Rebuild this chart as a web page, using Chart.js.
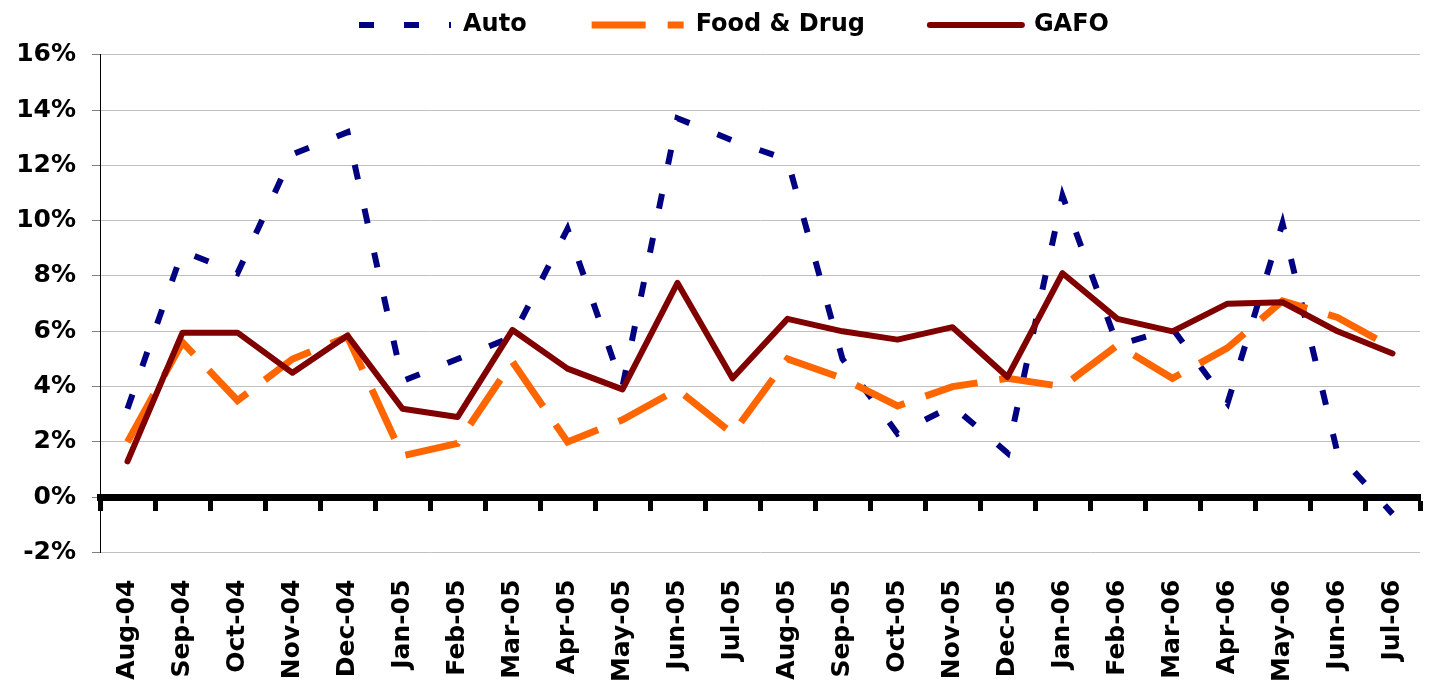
<!DOCTYPE html>
<html><head><meta charset="utf-8">
<script src="https://cdn.jsdelivr.net/npm/chart.js@4.4.1/dist/chart.umd.min.js"></script>
<style>html,body{margin:0;padding:0;background:#fff;overflow:hidden}canvas{display:block}</style>
</head><body>
<canvas id="c" width="1437" height="684"></canvas>
<script>
const months = ['Aug-04','Sep-04','Oct-04','Nov-04','Dec-04','Jan-05','Feb-05','Mar-05','Apr-05','May-05','Jun-05','Jul-05',
                'Aug-05','Sep-05','Oct-05','Nov-05','Dec-05','Jan-06','Feb-06','Mar-06','Apr-06','May-06','Jun-06','Jul-06'];
const autoSales     = [3.2, 8.9, 8.1, 12.4, 13.2, 4.2, 5.0, 5.8, 9.7, 4.0, 13.7, 12.9, 12.2, 5.0, 2.3, 3.3, 1.6, 10.9, 5.5, 6.1, 3.4, 9.9, 1.6, -0.6];
const foodDrugSales = [2.0, 5.6, 3.5, 5.0, 5.8, 1.5, 1.95, 4.9, 2.0, 2.8, 3.9, 2.3, 5.0, 4.3, 3.3, 4.0, 4.3, 4.0, 5.5, 4.3, 5.4, 7.1, 6.5, 5.4];
const gafoSales     = [1.3, 5.95, 5.95, 4.5, 5.85, 3.2, 2.9, 6.05, 4.65, 3.9, 7.75, 4.3, 6.45, 6.0, 5.7, 6.15, 4.35, 8.1, 6.45, 6.0, 7.0, 7.05, 6.0, 5.2];
const yMin = -2, yMax = 16, yStep = 2;

const FONT = "'DejaVu Sans', Verdana, sans-serif";

const legendLayout = {
  id: 'legendLayout',
  beforeInit(chart) {
    const orig = chart.legend.fit;
    chart.legend.fit = function () {
      orig.bind(chart.legend)();
      this.height = 106.7;
    };
  },
  afterLayout(chart) {
    chart.legend.left = 48;
  }
};

new Chart(document.getElementById('c'), {
  type: 'line',
  data: {
    labels: months,
    datasets: [
      { label: 'Auto', data: autoSales, borderColor: '#000080', backgroundColor: '#000080',
        borderWidth: 6, borderDash: [15, 30], borderCapStyle: 'butt', pointRadius: 0, tension: 0, fill: false, order: 3 },
      { label: 'Food & Drug', data: foodDrugSales, borderColor: '#FF6600', backgroundColor: '#FF6600',
        borderWidth: 7, borderDash: [54, 22], borderCapStyle: 'butt', pointRadius: 0, tension: 0, fill: false, order: 2 },
      { label: 'GAFO', data: gafoSales, borderColor: '#800000', backgroundColor: '#800000',
        borderWidth: 6, borderCapStyle: 'round', borderJoinStyle: 'round', pointRadius: 0, tension: 0, fill: false, order: 1 }
    ]
  },
  options: {
    responsive: false,
    animation: false,
    devicePixelRatio: 1,
    layout: { padding: { left: 0, right: 17, top: -52, bottom: 0 } },
    plugins: {
      legend: {
        position: 'top',
        labels: {
          usePointStyle: true, pointStyle: 'line', pointStyleWidth: 92,
          padding: 65, color: '#000',
          font: { family: FONT, size: 24, weight: 'bold' },
          generateLabels: chart => chart.data.datasets.map((ds, i) => ({
            text: ds.label,
            fillStyle: ds.borderColor,
            strokeStyle: ds.borderColor,
            fontColor: '#000',
            lineWidth: ds.borderWidth,
            lineDash: ds.borderDash || [],
            lineDashOffset: 0,
            lineCap: ds.borderCapStyle,
            lineJoin: ds.borderJoinStyle || 'miter',
            pointStyle: 'line',
            rotation: 0,
            hidden: false,
            datasetIndex: i
          }))
        }
      },
      tooltip: { enabled: false }
    },
    scales: {
      x: {
        offset: true,
        grid: { display: false, drawTicks: false },
        border: { display: false },
        ticks: { autoSkip: false, minRotation: 90, maxRotation: 90, padding: 27, color: '#000',
                 font: { family: FONT, size: 25, weight: 'bold' } },
        afterFit(s) { s.height = 131.4; s.paddingLeft = 0; s.paddingRight = 0; }
      },
      x2: {
        type: 'category', axis: 'x', position: { y: 0 }, offset: true,
        grid: { offset: true, drawOnChartArea: false, drawTicks: true, tickLength: 10, tickWidth: 5, tickColor: '#000' },
        border: { display: true, width: 7, color: '#000' },
        ticks: { display: false },
        afterFit(s) { s.paddingLeft = 0; s.paddingRight = 0; }
      },
      y: {
        min: yMin, max: yMax,
        ticks: { stepSize: yStep, callback: v => v + '%', color: '#000', padding: 16,
                 font: { family: FONT, size: 25, weight: 'bold' } },
        grid: { color: '#c0c0c0', lineWidth: 1, tickLength: 8, tickColor: '#808080' },
        border: { color: '#000', width: 1 },
        afterFit(s) { s.width = 100; }
      }
    }
  },
  plugins: [legendLayout]
});
</script>
</body></html>
